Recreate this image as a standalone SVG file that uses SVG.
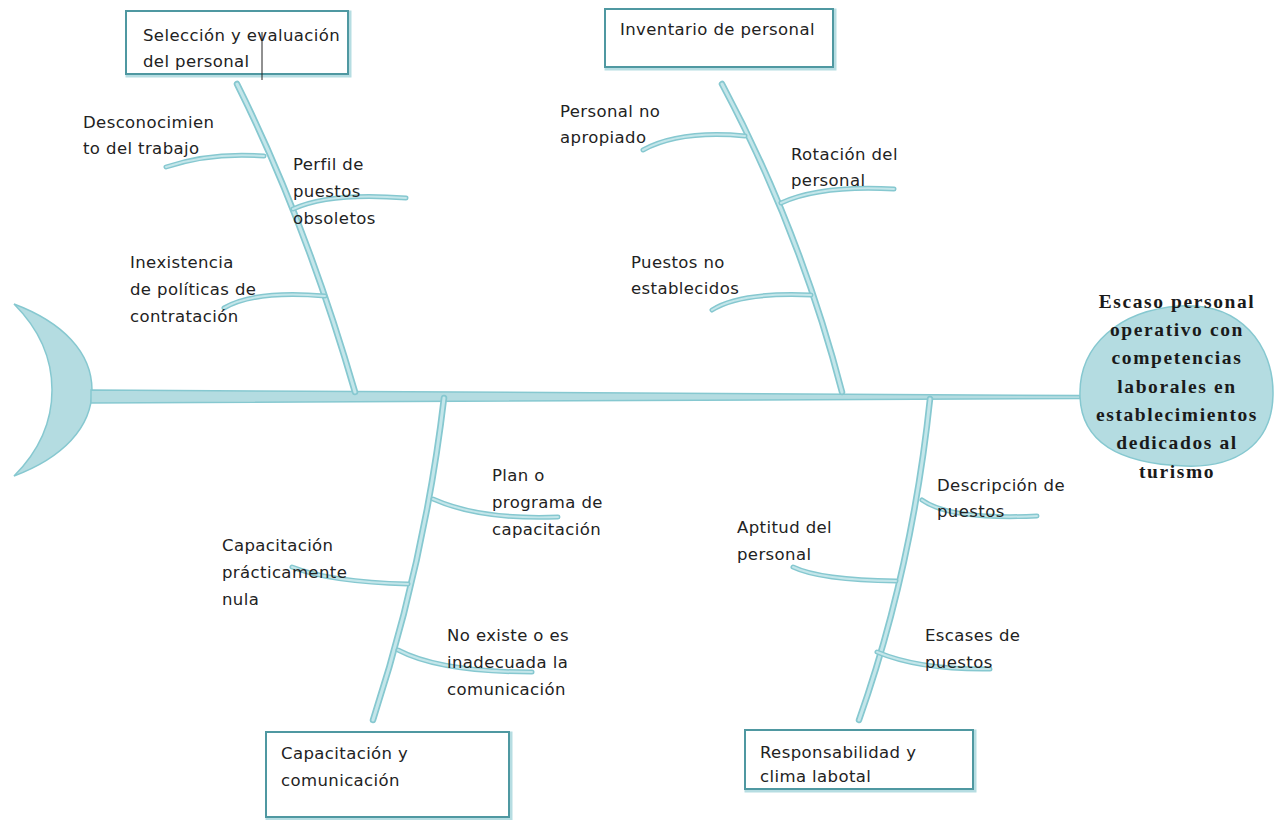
<svg xmlns="http://www.w3.org/2000/svg" xmlns:xlink="http://www.w3.org/1999/xlink" width="1283" height="820" viewBox="0 0 1283 820">
<style>
.t{font-family:"DejaVu Sans","Liberation Sans",sans-serif;font-size:16.5px;letter-spacing:0.4px;fill:#222}
.h{font-family:"Liberation Serif",serif;font-size:19.5px;font-weight:bold;fill:#1a1a1a;letter-spacing:1.6px;text-anchor:middle}
.bo{fill:none;stroke:#86c8d0;stroke-width:6.5;stroke-linecap:round}
.bi{fill:none;stroke:#c4e6ea;stroke-width:3;stroke-linecap:round}
.so{fill:none;stroke:#86c8d0;stroke-width:5;stroke-linecap:round}
.si{fill:none;stroke:#c4e6ea;stroke-width:2;stroke-linecap:round}
.box{fill:#fff;stroke:#4f98a1;stroke-width:2}
.glow{fill:none;stroke:#b6dde2;stroke-width:3}
</style>
<defs>
<path id="b1" d="M237,84 Q305,220 355,392"/>
<path id="b2" d="M722,84 Q800,230 842,392"/>
<path id="b3" d="M444,398 Q425,560 373,720"/>
<path id="b4" d="M930,399 Q912,570 859,720"/>
<path id="s1" d="M264,156 Q210,152 166,167"/>
<path id="s2" d="M293,209 Q330,192 406,198"/>
<path id="s3" d="M325,296 Q255,290 224,308"/>
<path id="s4" d="M745,136 Q680,130 643,150"/>
<path id="s5" d="M781,203 Q820,185 894,189"/>
<path id="s6" d="M811,295 Q740,292 712,310"/>
<path id="s7" d="M433,499 Q480,520 558,517"/>
<path id="s8" d="M408,584 Q330,582 292,567"/>
<path id="s9" d="M398,650 Q440,672 532,672"/>
<path id="s10" d="M922,500 Q950,520 1037,516"/>
<path id="s11" d="M896,581 Q820,580 793,567"/>
<path id="s12" d="M877,652 Q920,670 990,669"/>
</defs>

<g id="tail">
<path d="M14,304 C62,322 92,352 92,390 C92,428 62,458 14,476 C42,448 52,420 52,390 C52,360 42,332 14,304 Z" fill="#b4dce1" stroke="#86c8d0" stroke-width="1.5"/>
</g>

<g id="connectors">
<path d="M91,390 L1080,395.5 L1080,398.5 L91,403 Z" fill="#b4dce1" stroke="#86c8d0" stroke-width="1.5"/>
<use href="#b1" class="bo"/><use href="#b1" class="bi"/>
<use href="#b2" class="bo"/><use href="#b2" class="bi"/>
<use href="#b3" class="bo"/><use href="#b3" class="bi"/>
<use href="#b4" class="bo"/><use href="#b4" class="bi"/>
<use href="#s1" class="so"/><use href="#s1" class="si"/>
<use href="#s2" class="so"/><use href="#s2" class="si"/>
<use href="#s3" class="so"/><use href="#s3" class="si"/>
<use href="#s4" class="so"/><use href="#s4" class="si"/>
<use href="#s5" class="so"/><use href="#s5" class="si"/>
<use href="#s6" class="so"/><use href="#s6" class="si"/>
<use href="#s7" class="so"/><use href="#s7" class="si"/>
<use href="#s8" class="so"/><use href="#s8" class="si"/>
<use href="#s9" class="so"/><use href="#s9" class="si"/>
<use href="#s10" class="so"/><use href="#s10" class="si"/>
<use href="#s11" class="so"/><use href="#s11" class="si"/>
<use href="#s12" class="so"/><use href="#s12" class="si"/>
</g>

<g id="head">
<path d="M1080,397 C1078,345 1120,310 1180,306 C1240,302 1274,345 1273,395 C1272,445 1235,468 1185,466 C1125,464 1082,445 1080,397 Z" fill="#b4dce1" stroke="#86c8d0" stroke-width="1.5"/>
<text class="h" x="1177" y="308">Escaso personal</text>
<text class="h" x="1177" y="336">operativo con</text>
<text class="h" x="1177" y="364">competencias</text>
<text class="h" x="1177" y="393">laborales en</text>
<text class="h" x="1177" y="421">establecimientos</text>
<text class="h" x="1177" y="449">dedicados al</text>
<text class="h" x="1177" y="478">turismo</text>
</g>

<g id="cat-seleccion">
<rect class="glow" x="127" y="12" width="223" height="64"/>
<rect class="box" x="126" y="11" width="222" height="63"/>
<text class="t" x="143" y="41">Selección y evaluación</text>
<text class="t" x="143" y="67">del personal</text>
<line x1="262" y1="32" x2="262" y2="80" stroke="#222" stroke-width="1"/>
</g>

<g id="cat-inventario">
<rect class="glow" x="606" y="10" width="229" height="59"/>
<rect class="box" x="605" y="9" width="228" height="58"/>
<text class="t" x="620" y="35">Inventario de personal</text>
</g>

<g id="cat-capacitacion">
<rect class="glow" x="267" y="733" width="244" height="86"/>
<rect class="box" x="266" y="732" width="243" height="85"/>
<text class="t" x="281" y="759">Capacitación y</text>
<text class="t" x="281" y="786">comunicación</text>
</g>

<g id="cat-responsabilidad">
<rect class="glow" x="746" y="731" width="229" height="60"/>
<rect class="box" x="745" y="730" width="228" height="59"/>
<text class="t" x="760" y="758">Responsabilidad y</text>
<text class="t" x="760" y="782">clima labotal</text>
</g>

<g id="c-desconocimiento"><text class="t" x="83" y="128">Desconocimien</text><text class="t" x="83" y="154">to del trabajo</text></g>
<g id="c-perfil"><text class="t" x="293" y="170">Perfil de</text><text class="t" x="293" y="197">puestos</text><text class="t" x="293" y="224">obsoletos</text></g>
<g id="c-inexistencia"><text class="t" x="130" y="268">Inexistencia</text><text class="t" x="130" y="295">de políticas de</text><text class="t" x="130" y="322">contratación</text></g>
<g id="c-personalno"><text class="t" x="560" y="117">Personal no</text><text class="t" x="560" y="143">apropiado</text></g>
<g id="c-rotacion"><text class="t" x="791" y="160">Rotación del</text><text class="t" x="791" y="186">personal</text></g>
<g id="c-puestosno"><text class="t" x="631" y="268">Puestos no</text><text class="t" x="631" y="294">establecidos</text></g>
<g id="c-plan"><text class="t" x="492" y="481">Plan o</text><text class="t" x="492" y="508">programa de</text><text class="t" x="492" y="535">capacitación</text></g>
<g id="c-capnula"><text class="t" x="222" y="551">Capacitación</text><text class="t" x="222" y="578">prácticamente</text><text class="t" x="222" y="605">nula</text></g>
<g id="c-noexiste"><text class="t" x="447" y="641">No existe o es</text><text class="t" x="447" y="668">inadecuada la</text><text class="t" x="447" y="695">comunicación</text></g>
<g id="c-descripcion"><text class="t" x="937" y="491">Descripción de</text><text class="t" x="937" y="517">puestos</text></g>
<g id="c-aptitud"><text class="t" x="737" y="533">Aptitud del</text><text class="t" x="737" y="560">personal</text></g>
<g id="c-escases"><text class="t" x="925" y="641">Escases de</text><text class="t" x="925" y="668">puestos</text></g>
</svg>
